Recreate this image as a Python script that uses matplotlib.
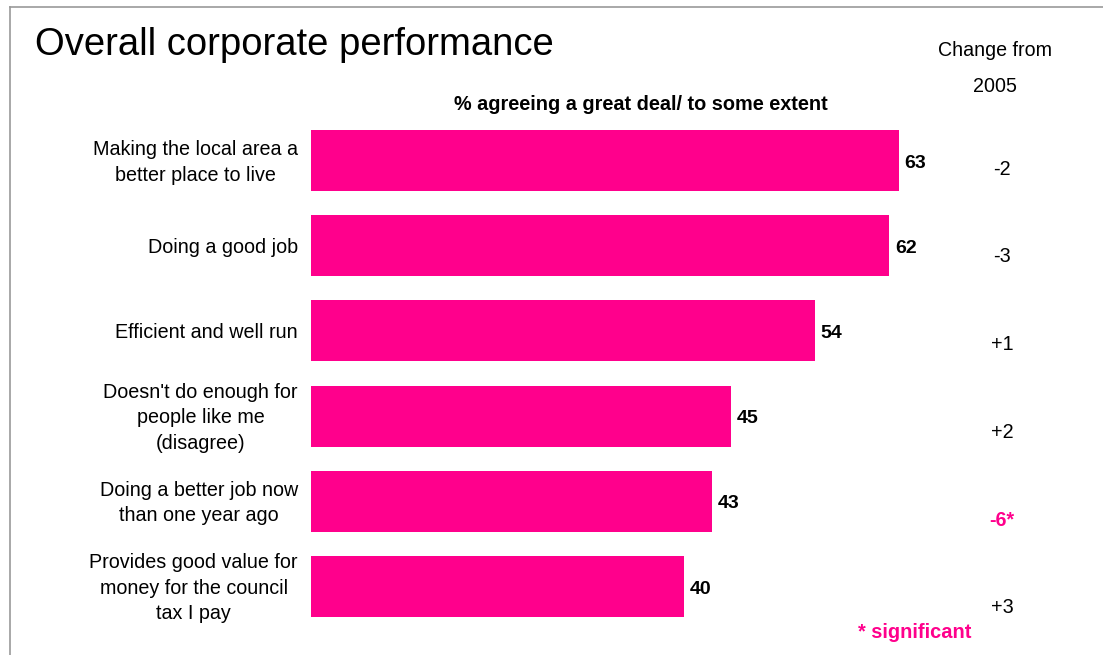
import numpy as np
import matplotlib
matplotlib.use("Agg")
from matplotlib import pyplot as plt
from matplotlib.lines import Line2D

plt.rcParams['font.family'] = ['Liberation Sans', 'DejaVu Sans']

# Survey results
statements = [
    "Making the local area a\nbetter place to live",
    "Doing a good job",
    "Efficient and well run",
    "Doesn't do enough for\npeople like me\n(disagree)",
    "Doing a better job now\nthan one year ago",
    "Provides good value for\nmoney for the council\ntax I pay",
]
agree_pct = [63, 62, 54, 45, 43, 40]
change_2005 = ["-2", "-3", "+1", "+2", "-6*", "+3"]
significant = [False, False, False, False, True, False]

pink = '#FF008C'
W, H = 1103, 655

fig = plt.figure(figsize=(W / 100, H / 100), dpi=100)

# axes placed in pixel terms: x=0 at 311px, 9.33px per point
px_per_unit = 9.33
x0_px, x1_px = 311, 1100
y_top_px, y_bot_px = 20, 650
row0_px, pitch_px = 160.5, 85.2
ax = fig.add_axes([x0_px / W, 1 - y_bot_px / H, (x1_px - x0_px) / W, (y_bot_px - y_top_px) / H])
ax.set_xlim(0, (x1_px - x0_px) / px_per_unit)
ax.set_ylim((y_bot_px - row0_px) / pitch_px, (y_top_px - row0_px) / pitch_px)
ax.axis('off')

ypos = np.arange(len(agree_pct))
ax.barh(ypos, agree_pct, height=0.716, color=pink, edgecolor='none')

for y, v, lab in zip(ypos, agree_pct, statements):
    ax.text(v + 0.6, y + 0.03, str(v), ha='left', va='center', fontsize=14, fontweight='bold')
    ax.text(-1.4, y + 0.02, lab, ha='right', va='center', multialignment='center',
            fontsize=14.2, linespacing=1.45)

# change column sits slightly lower than the bars
change_x = (1002 - x0_px) / px_per_unit
for i, (c, sig) in enumerate(zip(change_2005, significant)):
    yc = i * 1.03 + 0.1
    ax.text(change_x, yc, c, ha='center', va='center', fontsize=14.2,
            color=pink if sig else 'black', fontweight='bold' if sig else 'normal')

fig.text(35 / W, 1 - 45 / H, "Overall corporate performance", ha='left', va='center', fontsize=27.5)
fig.text(995 / W, 1 - 51 / H, "Change from", ha='center', va='center', fontsize=14.1)
fig.text(995 / W, 1 - 87 / H, "2005", ha='center', va='center', fontsize=14.1)
fig.text(641 / W, 1 - 105 / H, "% agreeing a great deal/ to some extent", ha='center', va='center',
         fontsize=14.3, fontweight='bold')
fig.text(915 / W, 1 - 633 / H, "* significant", ha='center', va='center', fontsize=14.4,
         fontweight='bold', color=pink)

# frame around the slide
fig.add_artist(Line2D([10 / W, 10 / W], [0, 1 - 7 / H], color='#999999', lw=1.2))
fig.add_artist(Line2D([10 / W, 1], [1 - 7 / H, 1 - 7 / H], color='#999999', lw=1.2))

fig.savefig('out.png', dpi=100)
